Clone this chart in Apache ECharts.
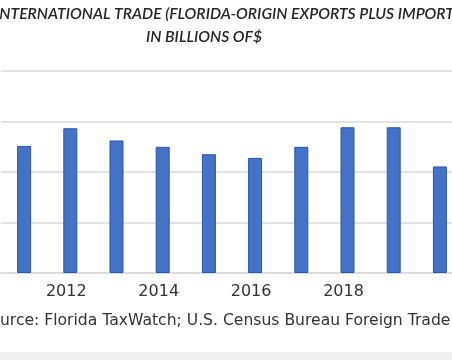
<!DOCTYPE html>
<html><head><meta charset="utf-8">
<script src="https://cdn.jsdelivr.net/npm/echarts@6/dist/echarts.min.js"></script>
<style>html,body{margin:0;padding:0;background:#fff;}#c{width:452px;height:360px;}</style>
</head><body><div id="c"></div>
<script>
const categories = ['2011','2012','2013','2014','2015','2016','2017','2018','2019','2020'];
const tradeValues = [125.8, 143.3, 131.2, 124.9, 117.6, 114.0, 124.9, 144.3, 144.3, 105.5];
const tickLabels = ['2012','2014','2016','2018'];
const titleLine1 = 'INTERNATIONAL TRADE (FLORIDA-ORIGIN EXPORTS PLUS IMPORTS)';
const titleLine2 = 'IN BILLIONS OF$';
const sourceText = 'Source: Florida TaxWatch; U.S. Census Bureau Foreign Trade Division';

const chart = echarts.init(document.getElementById('c'));
chart.setOption({
  animation: false,
  backgroundColor: '#ffffff',
  grid: { left: 1, width: 462, top: 71, bottom: 87, containLabel: false, outerBoundsMode: 'none' },
  xAxis: {
    type: 'category', data: categories,
    axisLine: { lineStyle: { color: '#d9d9d9', width: 1.5 } },
    axisTick: { show: false },
    axisLabel: {
      interval: 0, margin: 11, color: '#333', fontFamily: 'DejaVu Sans', fontSize: 16,
      padding: [0, 8, 0, 0],
      formatter: v => tickLabels.includes(v) ? v : ''
    }
  },
  yAxis: {
    type: 'value', min: 0, max: 200, interval: 50,
    axisLabel: { show: false }, axisLine: { show: false }, axisTick: { show: false },
    splitLine: { lineStyle: { color: '#d9d9d9', width: 1.5 } }
  },
  series: [{
    type: 'bar', data: tradeValues, barWidth: 14,
    itemStyle: { color: '#4472c4', borderColor: '#2a55b8', borderWidth: 1 }
  }],
  graphic: [
    { type: 'text', left: -5, top: 6, style: { text: titleLine1, fill: '#262626', font: 'italic 600 15.7px Lato' } },
    { type: 'text', x: 204, y: 29, style: { text: titleLine2, fill: '#262626', font: 'italic 600 15.7px Lato', textAlign: 'center' } },
    { type: 'text', left: -19.5, top: 313, style: { text: sourceText, fill: '#333', font: '15.6px "DejaVu Sans"' } },
    { type: 'rect', shape: { x: 0, y: 352, width: 452, height: 8 }, style: { fill: '#efefef' } }
  ]
});
</script></body></html>
